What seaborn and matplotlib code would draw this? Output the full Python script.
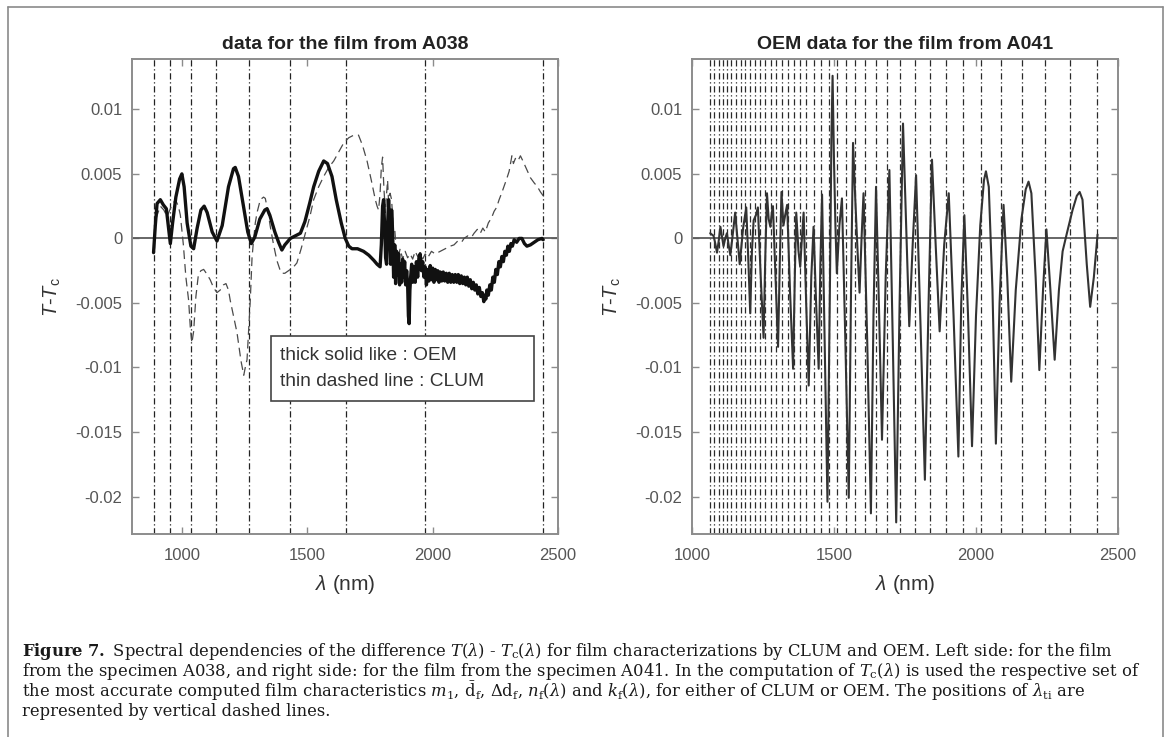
import matplotlib
matplotlib.use("Agg")
import matplotlib.pyplot as plt
import numpy as np
import pandas as pd
import seaborn as sns
from matplotlib.lines import Line2D
from matplotlib.patches import Rectangle

# ---------------- data ----------------
# turning-point wavelengths (nm)
lam_ti_a038 = [886, 953, 1037, 1135, 1267, 1430, 1655, 1969, 2441]
lam_ti_a041 = [1063, 1079, 1094, 1108, 1122, 1137, 1154, 1171, 1188, 1204,
               1222, 1240, 1258, 1277, 1297, 1317, 1337, 1358, 1380, 1403,
               1428, 1454, 1481, 1510, 1541, 1574, 1609, 1647, 1687, 1733,
               1784, 1837, 1894, 1955, 2018, 2088, 2163, 2244, 2330, 2427]

# A038, OEM: (wavelength nm, T - Tc)
oem_a038 = [
    (886, -0.0011), (893, 0.0010), (900, 0.0027), (913, 0.0030), (925, 0.0026),
    (937, 0.0023), (946, 0.0008), (953, -0.0004), (962, 0.0012), (975, 0.0032),
    (990, 0.0046), (999, 0.0050), (1008, 0.0040), (1020, 0.0012), (1035, -0.0006),
    (1046, -0.0008), (1060, 0.0008), (1075, 0.0022), (1088, 0.0025), (1100, 0.0020),
    (1120, 0.0005), (1139, -0.0002), (1160, 0.0010), (1185, 0.0040), (1205, 0.0054),
    (1212, 0.0055), (1225, 0.0048), (1245, 0.0025), (1262, 0.0005), (1276, -0.0004),
    (1290, 0.0001), (1310, 0.0015), (1330, 0.0022), (1339, 0.0023), (1350, 0.0018),
    (1370, 0.0005), (1385, -0.0003), (1398, -0.0009), (1410, -0.0005), (1432, 0.0000),
    (1452, 0.0002), (1472, 0.0004), (1490, 0.0013), (1510, 0.0028), (1525, 0.0040),
    (1545, 0.0052), (1565, 0.0060), (1580, 0.0058), (1598, 0.0048), (1615, 0.0030),
    (1635, 0.0012), (1651, 0.0000), (1665, -0.0006), (1678, -0.0008), (1700, -0.0008),
    (1724, -0.0010), (1745, -0.0013), (1765, -0.0017), (1778, -0.0020), (1790, -0.0022),
    (1795, -0.0005), (1800, 0.0025), (1804, 0.0030), (1808, 0.0010), (1812, -0.0015),
    (1816, -0.0020), (1820, 0.0010), (1824, 0.0030), (1828, 0.0015), (1832, -0.0020),
    (1836, 0.0022), (1840, 0.0005), (1844, -0.0030), (1848, -0.0005), (1852, -0.0035),
    (1856, -0.0010), (1860, -0.0028), (1864, -0.0012), (1868, -0.0036), (1872, -0.0020),
    (1876, -0.0034), (1880, -0.0016), (1884, -0.0030), (1888, -0.0018), (1892, -0.0036),
    (1896, -0.0025), (1900, -0.0036), (1903, -0.0060), (1906, -0.0066), (1909, -0.0040),
    (1912, -0.0030), (1916, -0.0020), (1920, -0.0034), (1925, -0.0022), (1930, -0.0034),
    (1935, -0.0018), (1940, -0.0030), (1945, -0.0015), (1950, -0.0012), (1955, -0.0025),
    (1960, -0.0018), (1965, -0.0030), (1970, -0.0022), (1975, -0.0036), (1980, -0.0024),
    (1985, -0.0033), (1990, -0.0021), (1995, -0.0032), (2000, -0.0023), (2005, -0.0034),
    (2010, -0.0024), (2015, -0.0032), (2020, -0.0025), (2025, -0.0034), (2030, -0.0026),
    (2036, -0.0033), (2042, -0.0026), (2048, -0.0033), (2054, -0.0027), (2060, -0.0034),
    (2066, -0.0027), (2072, -0.0034), (2078, -0.0028), (2084, -0.0034), (2090, -0.0028),
    (2096, -0.0034), (2102, -0.0028), (2108, -0.0035), (2114, -0.0029), (2120, -0.0035),
    (2126, -0.0030), (2132, -0.0036), (2138, -0.0030), (2144, -0.0037), (2150, -0.0032),
    (2156, -0.0039), (2162, -0.0034), (2168, -0.0040), (2174, -0.0036), (2180, -0.0043),
    (2186, -0.0038), (2192, -0.0045), (2198, -0.0042), (2204, -0.0049), (2208, -0.0044),
    (2212, -0.0047), (2216, -0.0040), (2222, -0.0044), (2228, -0.0036), (2234, -0.0040),
    (2240, -0.0030), (2246, -0.0034), (2252, -0.0024), (2258, -0.0028), (2264, -0.0018),
    (2270, -0.0022), (2276, -0.0014), (2282, -0.0018), (2288, -0.0010), (2294, -0.0013),
    (2300, -0.0006), (2306, -0.0010), (2312, -0.0004), (2318, -0.0006), (2325, -0.0001),
    (2335, -0.0003), (2345, 0.0000), (2356, 0.0000), (2366, -0.0004), (2376, -0.0006),
    (2390, -0.0005), (2405, -0.0003), (2420, -0.0001), (2436, 0.0000), (2441, -0.0001),
]

# A038, CLUM: (wavelength nm, T - Tc)
clum_a038 = [
    (886, -0.0006), (895, 0.0015), (913, 0.0025), (927, 0.0022), (940, 0.0017),
    (955, 0.0024), (973, 0.0030), (985, 0.0025), (993, 0.0018), (1005, -0.0005),
    (1015, -0.0030), (1026, -0.0048), (1033, -0.0070), (1039, -0.0081), (1046, -0.0072),
    (1055, -0.0045), (1065, -0.0028), (1075, -0.0025), (1086, -0.0024), (1100, -0.0028),
    (1112, -0.0032), (1125, -0.0038), (1139, -0.0042), (1152, -0.0040), (1165, -0.0036),
    (1175, -0.0035), (1185, -0.0040), (1192, -0.0048), (1205, -0.0060), (1219, -0.0073),
    (1235, -0.0095), (1246, -0.0106), (1252, -0.0100), (1259, -0.0094), (1266, -0.0070),
    (1272, -0.0048), (1279, -0.0015), (1283, -0.0006), (1292, 0.0012), (1299, 0.0020),
    (1312, 0.0030), (1325, 0.0032), (1332, 0.0031), (1345, 0.0018), (1352, 0.0009),
    (1365, -0.0005), (1378, -0.0017), (1390, -0.0024), (1398, -0.0027), (1410, -0.0027),
    (1432, -0.0024), (1445, -0.0022), (1458, -0.0019), (1475, -0.0008), (1492, 0.0004),
    (1510, 0.0017), (1525, 0.0030), (1545, 0.0040), (1565, 0.0048), (1585, 0.0055),
    (1605, 0.0060), (1625, 0.0067), (1645, 0.0074), (1665, 0.0078), (1685, 0.0080),
    (1704, 0.0080), (1720, 0.0072), (1738, 0.0060), (1755, 0.0045), (1771, 0.0030),
    (1778, 0.0025), (1784, 0.0022), (1790, 0.0035), (1795, 0.0055), (1800, 0.0063),
    (1805, 0.0040), (1811, 0.0020), (1816, 0.0035), (1820, 0.0045), (1824, 0.0028),
    (1830, 0.0035), (1836, 0.0030), (1842, 0.0010), (1848, 0.0008), (1855, -0.0010),
    (1862, -0.0015), (1870, -0.0008), (1880, -0.0016), (1890, -0.0010), (1900, -0.0015),
    (1910, -0.0012), (1920, -0.0016), (1930, -0.0010), (1940, -0.0014), (1950, -0.0011),
    (1960, -0.0016), (1970, -0.0012), (1980, -0.0015), (1995, -0.0010), (2010, -0.0012),
    (2030, -0.0010), (2050, -0.0008), (2070, -0.0006), (2085, -0.0005), (2100, -0.0002),
    (2115, -0.0003), (2125, 0.0000), (2140, 0.0002), (2155, 0.0001), (2165, 0.0004),
    (2178, 0.0007), (2190, 0.0004), (2200, 0.0008), (2210, 0.0005), (2222, 0.0012),
    (2235, 0.0016), (2245, 0.0021), (2255, 0.0024), (2265, 0.0030), (2275, 0.0035),
    (2284, 0.0040), (2295, 0.0046), (2305, 0.0052), (2316, 0.0064), (2322, 0.0058),
    (2330, 0.0062), (2340, 0.0060), (2350, 0.0064), (2360, 0.0060), (2376, 0.0053),
    (2390, 0.0047), (2405, 0.0043), (2418, 0.0040), (2430, 0.0036), (2441, 0.0033),
]

# A041, OEM: (wavelength nm, T - Tc)
oem_a041 = [
    (1064, 0.0004), (1070, 0.0003), (1076, 0.0002), (1082, -0.0004), (1088, -0.0011),
    (1094, -0.0002), (1100, 0.0009), (1106, 0.0001), (1111, -0.0006), (1117, 0.0000),
    (1123, 0.0004), (1129, -0.0005), (1135, -0.0013), (1144, 0.0004), (1152, 0.0020),
    (1160, 0.0000), (1168, -0.0020), (1180, 0.0008), (1191, 0.0024), (1198, -0.0015),
    (1205, -0.0058), (1211, -0.0010), (1217, 0.0014), (1225, 0.0018), (1232, 0.0024),
    (1242, -0.0030), (1252, -0.0077), (1258, -0.0015), (1264, 0.0035), (1270, 0.0015),
    (1276, 0.0009), (1281, 0.0020), (1285, 0.0025), (1294, -0.0030), (1303, -0.0084),
    (1309, -0.0020), (1315, 0.0036), (1322, 0.0010), (1328, 0.0018), (1335, 0.0026),
    (1345, -0.0040), (1356, -0.0101), (1362, -0.0030), (1367, 0.0020), (1375, -0.0010),
    (1381, -0.0022), (1387, 0.0000), (1393, 0.0020), (1402, -0.0050), (1411, -0.0114),
    (1420, -0.0030), (1428, 0.0009), (1437, -0.0050), (1446, -0.0101), (1452, -0.0020),
    (1458, 0.0034), (1467, -0.0080), (1477, -0.0204), (1486, -0.0030), (1491, 0.0080),
    (1495, 0.0126), (1500, 0.0060), (1505, 0.0010), (1510, -0.0027), (1519, 0.0010),
    (1528, 0.0031), (1540, -0.0080), (1552, -0.0201), (1560, -0.0040), (1567, 0.0074),
    (1575, 0.0030), (1583, -0.0010), (1590, -0.0042), (1597, 0.0000), (1604, 0.0035),
    (1617, -0.0080), (1630, -0.0213), (1639, -0.0060), (1648, 0.0040), (1658, -0.0050),
    (1669, -0.0156), (1682, -0.0030), (1695, 0.0053), (1707, -0.0080), (1719, -0.0220),
    (1731, -0.0050), (1743, 0.0089), (1754, 0.0010), (1765, -0.0068), (1777, -0.0005),
    (1789, 0.0049), (1805, -0.0070), (1820, -0.0187), (1833, -0.0050), (1845, 0.0061),
    (1858, -0.0005), (1872, -0.0072), (1888, -0.0005), (1904, 0.0035), (1921, -0.0060),
    (1938, -0.0169), (1948, -0.0050), (1959, 0.0018), (1972, -0.0060), (1986, -0.0161),
    (2000, -0.0060), (2015, 0.0010), (2028, 0.0045), (2035, 0.0052), (2045, 0.0040),
    (2058, -0.0040), (2070, -0.0159), (2083, -0.0050), (2097, 0.0026), (2110, -0.0030),
    (2124, -0.0111), (2140, -0.0040), (2160, 0.0015), (2175, 0.0038), (2185, 0.0044),
    (2195, 0.0035), (2210, -0.0030), (2223, -0.0102), (2236, -0.0040), (2248, 0.0007),
    (2262, -0.0040), (2277, -0.0094), (2292, -0.0040), (2305, -0.0010), (2320, 0.0004),
    (2340, 0.0022), (2355, 0.0033), (2365, 0.0036), (2375, 0.0030), (2390, -0.0020),
    (2402, -0.0053), (2415, -0.0030), (2428, 0.0003),
]

ytick_vals = [-0.02, -0.015, -0.01, -0.005, 0, 0.005, 0.01]
ytick_labels = ["-0.02", "-0.015", "-0.01", "-0.005", "0", "0.005", "0.01"]
xticks_left = [1000, 1500, 2000, 2500]
xticks_right = [1000, 1500, 2000, 2500]

titles = ["data for the film from A038", "OEM data for the film from A041"]
legend_lines = ["thick solid like : OEM", "thin dashed line : CLUM"]

caption_lines = [
    r"$\mathbf{Figure\ 7.}$ Spectral dependencies of the difference $T(\lambda)$ - $T_\mathrm{c}(\lambda)$ "
    r"for film characterizations by CLUM and OEM. Left side: for the film",
    r"from the specimen A038, and right side: for the film from the specimen A041. "
    r"In the computation of $T_\mathrm{c}(\lambda)$ is used the respective set of",
    r"the most accurate computed film characteristics $m_1$, $\bar{\mathrm{d}}_\mathrm{f}$, "
    r"$\Delta\mathrm{d}_\mathrm{f}$, $n_\mathrm{f}(\lambda)$ and $k_\mathrm{f}(\lambda)$, "
    r"for either of CLUM or OEM. The positions of $\lambda_\mathrm{ti}$ are",
    r"represented by vertical dashed lines.",
]

# ---------------- style ----------------
sns.set_style("white")
plt.rcParams["font.family"] = ["Liberation Sans", "DejaVu Sans"]
plt.rcParams["mathtext.fontset"] = "custom"
plt.rcParams["mathtext.rm"] = "Liberation Sans"
plt.rcParams["mathtext.it"] = "Liberation Sans:italic"
plt.rcParams["mathtext.bf"] = "Liberation Sans:bold"

W, H = 1171, 737
fig = plt.figure(figsize=(W / 100, H / 100), dpi=100)
fig.patch.set_facecolor("white")

SPINE = "#8c8c8c"
TICKC = "#555555"
DASHDOT = (0, (5, 2.2, 1, 2.2))


def frac_box(x0, y0, x1, y1):
    return [x0 / W, 1 - y1 / H, (x1 - x0) / W, (y1 - y0) / H]


def style_axes(ax, xlim, xticks):
    ax.set_xlim(*xlim)
    ax.set_ylim(-0.0229, 0.0139)
    ax.set_xticks(xticks)
    ax.set_xticklabels([str(v) for v in xticks])
    ax.set_yticks(ytick_vals)
    ax.set_yticklabels(ytick_labels)
    ax.tick_params(direction="in", length=5, width=1.0, color=SPINE,
                   labelsize=12, labelcolor=TICKC, top=True, right=True,
                   bottom=True, left=True, pad=7)
    ax.tick_params(axis="x", pad=10)
    for s in ax.spines.values():
        s.set_color(SPINE)
        s.set_linewidth(1.4)
        s.set_visible(True)
    ax.set_xlabel(r"$\lambda$ (nm)", fontsize=15, color="#333333", labelpad=7)
    ax.set_ylabel(r"$T$-$T_\mathrm{c}$", fontsize=14.5, color="#333333", labelpad=9)
    ax.grid(False)
    ax.axhline(0, color="#5a5a5a", lw=1.3, zorder=1)


# ---------------- left panel ----------------
axL = fig.add_axes(frac_box(132, 59, 558, 534))
for lt in lam_ti_a038:
    axL.axvline(lt, color="#222222", lw=0.9, ls=DASHDOT, zorder=1)

df_clum = pd.DataFrame(clum_a038, columns=["lam", "dT"])
df_oem = pd.DataFrame(oem_a038, columns=["lam", "dT"])
sns.lineplot(data=df_clum, x="lam", y="dT", ax=axL, color="#4a4a4a",
             lw=0.9, estimator=None, sort=False, linestyle=(0, (7, 4)), zorder=3)
sns.lineplot(data=df_oem, x="lam", y="dT", ax=axL, color="#111111",
             lw=2.4, estimator=None, sort=False, zorder=4)
style_axes(axL, (800, 2500), xticks_left)
axL.set_title(titles[0], fontsize=14, fontweight="bold", color="#222222", pad=7)

# text box describing line styles
axL.add_patch(Rectangle((0.326, 0.281), 0.618, 0.136, transform=axL.transAxes,
                        facecolor="white", edgecolor="#444444", lw=1.2, zorder=6))
axL.text(0.348, 0.376, legend_lines[0], transform=axL.transAxes, fontsize=13.8,
         color="#333333", va="center", ha="left", zorder=7)
axL.text(0.348, 0.322, legend_lines[1], transform=axL.transAxes, fontsize=13.8,
         color="#333333", va="center", ha="left", zorder=7)

# ---------------- right panel ----------------
axR = fig.add_axes(frac_box(692, 59, 1118, 534))
for lt in lam_ti_a041:
    axR.axvline(lt, color="#2a2a2a", lw=0.9, ls=DASHDOT, zorder=1)
df_r = pd.DataFrame(oem_a041, columns=["lam", "dT"])
sns.lineplot(data=df_r, x="lam", y="dT", ax=axR, color="#333333",
             lw=1.5, estimator=None, sort=False, zorder=4)
style_axes(axR, (1000, 2500), xticks_right)
axR.set_title(titles[1], fontsize=14, fontweight="bold", color="#222222", pad=7)

# ---------------- caption and frame ----------------
for i, line in enumerate(caption_lines):
    fig.text(22 / W, 1 - (651 + 20.0 * i) / H, line, fontsize=11.8,
             family="DejaVu Serif", math_fontfamily="dejavuserif",
             color="#1a1a1a", va="center", ha="left")

frame_kw = dict(transform=fig.transFigure, color="#8a8a8a", lw=1.2)
fig.add_artist(Line2D([8 / W, 1163 / W], [1 - 7 / H, 1 - 7 / H], **frame_kw))
fig.add_artist(Line2D([8 / W, 8 / W], [1 - 7 / H, 0], **frame_kw))
fig.add_artist(Line2D([1163 / W, 1163 / W], [1 - 7 / H, 0], **frame_kw))

fig.savefig("out.png", dpi=100)
